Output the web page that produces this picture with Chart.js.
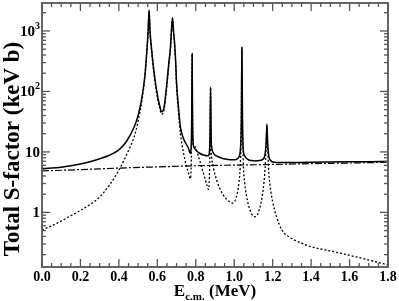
<!DOCTYPE html>
<html><head><meta charset="utf-8">
<script src="https://cdn.jsdelivr.net/npm/chart.js@4.4.0/dist/chart.umd.min.js"></script>
<style>html,body{margin:0;padding:0;background:#fff}#c{display:block}</style>
</head><body>
<canvas id="c" width="399" height="301"></canvas>
<script>
// ---- data ----
const energy = [0,0.05,0.1,0.15,0.2,0.25,0.3,0.35,0.4,0.44,0.48,0.5,0.52,0.535,0.545,0.552,0.557,0.562,0.57,0.58,0.595,0.61,0.623,0.635,0.65,0.66,0.668,0.674,0.679,0.684,0.69,0.695,0.70,0.71,0.72,0.735,0.75,0.762,0.771,0.776,0.779,0.781,0.783,0.786,0.79,0.80,0.82,0.84,0.86,0.866,0.871,0.874,0.877,0.880,0.884,0.892,0.91,0.94,0.97,0.99,1.01,1.025,1.033,1.037,1.040,1.043,1.047,1.055,1.07,1.09,1.11,1.13,1.15,1.16,1.166,1.17,1.174,1.18,1.19,1.20,1.22,1.25,1.3,1.35,1.4,1.5,1.6,1.7,1.8];
const totalS = [5.3,5.4,5.6,5.9,6.3,6.9,7.7,8.8,10.8,15,26,40,80,180,450,1000,2230,1000,500,250,110,62,46,55,140,300,520,1100,1650,1000,620,330,140,55,26,17,13.5,11.5,9.5,12,40,425,45,14,12,10.7,9.5,8.9,8.6,8.7,10,18,118,18,11.5,9.5,8.5,7.8,7.5,7.4,7.5,8.3,12,35,540,35,11,8.5,7.5,7.2,7.1,7.2,7.6,9,14,29,14,8.5,7.2,6.8,6.7,6.7,6.7,6.7,6.75,6.8,6.85,6.9,6.95];
const resonantS = [0.51,0.60,0.72,0.88,1.08,1.35,1.8,2.8,5.0,9,18,32,72,165,420,950,2150,950,470,230,100,56,42,50,125,280,480,1050,1600,950,580,300,120,45,20,10,6,4.5,3.6,6,30,415,40,14,13,11.5,7.3,4.4,2.7,2.4,4,12,115,12,7.5,5.4,3.3,2.0,1.55,1.42,1.75,3.2,8,30,520,30,7,3.0,1.5,0.95,0.85,1.1,2.3,5,12,27,12,4.5,2.3,1.5,0.85,0.5,0.37,0.31,0.27,0.23,0.195,0.163,0.135];
const directE = [0,0.2,0.4,0.6,0.8,1.0,1.2,1.4,1.6,1.8];
const directS = [4.85,5.1,5.4,5.65,5.9,6.05,6.2,6.4,6.55,6.75];
const yTickValues = [1,10,100,1000];
const yTickBase = ['1','10','10','10'];
const yTickExp = ['','','2','3'];
const xTickValues = [0,0.2,0.4,0.6,0.8,1.0,1.2,1.4,1.6,1.8];
const xTickLabels = ['0.0','0.2','0.4','0.6','0.8','1.0','1.2','1.4','1.6','1.8'];

const FONT = '"Liberation Serif", "Times New Roman", serif';
const pts = (xs, ys) => xs.map((v,i)=>({x:v,y:ys[i]}));

const frameTicks = {
  id:'frameTicks',
  afterDatasetsDraw(chart){
    const {ctx, chartArea:a, scales:{x,y}} = chart;
    ctx.save();
    ctx.strokeStyle = '#555';
    ctx.lineWidth = 1.3;
    const ln=(x1,y1,x2,y2)=>{ctx.beginPath();ctx.moveTo(x1,y1);ctx.lineTo(x2,y2);ctx.stroke();};
    for(let i=0;i<=36;i++){
      const v=i*0.05, px=x.getPixelForValue(v), len=(i%4===0)?8:4;
      ln(px,a.bottom,px,a.bottom-len); ln(px,a.top,px,a.top+len);
    }
    for(let e=-1;e<=3;e++) for(let m=1;m<=9;m++){
      const v=m*Math.pow(10,e);
      if(v<y.min||v>y.max) continue;
      const py=y.getPixelForValue(v), len=(m===1)?8:4;
      ln(a.left,py,a.left+len,py); ln(a.right,py,a.right-len,py);
    }
    ctx.lineWidth = 1.8;
    ctx.strokeRect(a.left,a.top,a.right-a.left,a.bottom-a.top);
    ctx.fillStyle='#000';
    // x tick labels
    ctx.font='bold 14px '+FONT; ctx.textAlign='center'; ctx.textBaseline='alphabetic';
    xTickValues.forEach((v,i)=>ctx.fillText(xTickLabels[i], x.getPixelForValue(v), 281));
    // y tick labels
    yTickValues.forEach((v,i)=>{
      const py=y.getPixelForValue(v);
      ctx.textAlign='right'; ctx.textBaseline='middle';
      let rx=40;
      if(yTickExp[i]){
        ctx.font='bold 10px '+FONT;
        ctx.fillText(yTickExp[i], rx, py-5);
        rx-=ctx.measureText(yTickExp[i]).width;
      }
      ctx.font='bold 15px '+FONT;
      ctx.fillText(yTickBase[i], rx, py+1);
    });
    // x title with subscript
    ctx.textBaseline='alphabetic';
    ctx.textAlign='left';
    const f1='bold 17px '+FONT, f2='bold 11px '+FONT;
    ctx.font=f1; const wE=ctx.measureText('E').width, wM=ctx.measureText(' (MeV)').width;
    ctx.font=f2; const wS=ctx.measureText('c.m.').width;
    let sx=(a.left+a.right)/2-(wE+wS+wM)/2; const by=296;
    ctx.font=f1; ctx.fillText('E',sx,by); sx+=wE;
    ctx.font=f2; ctx.fillText('c.m.',sx,by+4); sx+=wS;
    ctx.font=f1; ctx.fillText(' (MeV)',sx,by);
    // y title
    ctx.save();
    ctx.translate(19,149); ctx.rotate(-Math.PI/2);
    ctx.font='bold 23px '+FONT; ctx.textAlign='center';
    ctx.fillText('Total S-factor (keV b)',0,0);
    ctx.restore();
    ctx.restore();
  }
};

new Chart(document.getElementById('c'),{
  type:'line',
  data:{datasets:[
    {data:pts(energy,totalS),borderColor:'#000',borderWidth:1.5,pointRadius:0,cubicInterpolationMode:'monotone',fill:false},
    {data:pts(energy,resonantS),borderColor:'#000',borderWidth:1.3,borderDash:[2,2],pointRadius:0,cubicInterpolationMode:'monotone',fill:false},
    {data:pts(directE,directS),borderColor:'#000',borderWidth:1.2,borderDash:[7,2,2,2],pointRadius:0,cubicInterpolationMode:'monotone',fill:false}
  ]},
  options:{
    responsive:false,animation:false,devicePixelRatio:1,
    layout:{padding:{left:0,right:11,top:3,bottom:0}},
    plugins:{legend:{display:false},tooltip:{enabled:false}},
    scales:{
      x:{type:'linear',min:0,max:1.8,
        grid:{display:false,drawTicks:false},border:{display:false},
        ticks:{display:false},
        afterFit:s=>{s.height=34;}},
      y:{type:'logarithmic',min:0.125,max:2900,
        grid:{display:false,drawTicks:false},border:{display:false},
        ticks:{display:false},
        afterFit:s=>{s.width=42;}}
    }
  },
  plugins:[frameTicks]
});
</script>
</body></html>
